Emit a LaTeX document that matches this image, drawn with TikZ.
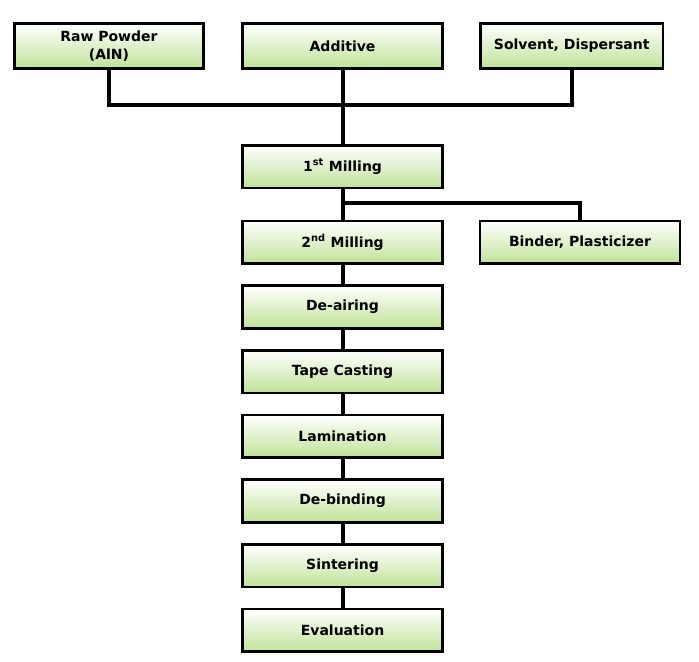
\documentclass[tikz,border=0pt]{standalone}
\usepackage{fontspec}
\setmainfont{DejaVu Sans}
\usepackage{xcolor}
\usepackage{tikz}
\usetikzlibrary{positioning}

\definecolor{stepgreen}{RGB}{192,226,152}

\begin{document}
\begin{tikzpicture}[
    node distance=14.5pt,
    stepbox/.style={rectangle, draw, line width=2pt, top color=white, bottom color=stepgreen,
        minimum width=150pt, minimum height=32pt, align=center, font=\fontsize{10.5}{13.5}\selectfont\bfseries},
    topbox/.style={stepbox, minimum height=34pt},
    link/.style={line width=3pt, line join=miter}
]
\useasboundingbox (0,0) rectangle (524.25pt,-495.75pt);

% Top row
\node[topbox] (add) at (256.9pt,-34.5pt) {Additive};
\node[topbox, minimum width=142pt, left=27.2pt of add] (raw) {Raw Powder\\(AlN)};
\node[topbox, minimum width=137pt, right=26.4pt of add] (solv) {Solvent, Dispersant};

% Process chain
\node[stepbox, below=55.5pt of add] (mill1) {1\textsuperscript{st} Milling};
\node[stepbox, below=22.75pt of mill1] (mill2) {2\textsuperscript{nd} Milling};
\node[stepbox, right=26.1pt of mill2] (binder) {Binder, Plasticizer};
\node[stepbox, below=of mill2] (deair) {De-airing};
\node[stepbox, below=of deair] (tape) {Tape Casting};
\node[stepbox, below=of tape] (lamin) {Lamination};
\node[stepbox, below=of lamin] (debind) {De-binding};
\node[stepbox, below=of debind] (sinter) {Sintering};
\node[stepbox, below=of sinter] (evalu) {Evaluation};

% Connectors
\coordinate[below=26pt of add] (j1);
\coordinate[below=10pt of mill1] (j2);
\draw[link] (raw.south) |- (j1) -| (solv.south);
\draw[link] (add.south) -- (mill1.north);
\draw[link] (mill1.south) -- (mill2.north);
\draw[link] (j2) -| (binder.north);
\foreach \a/\b in {mill2/deair, deair/tape, tape/lamin, lamin/debind, debind/sinter, sinter/evalu}
    \draw[link] (\a.south) -- (\b.north);

\end{tikzpicture}
\end{document}
